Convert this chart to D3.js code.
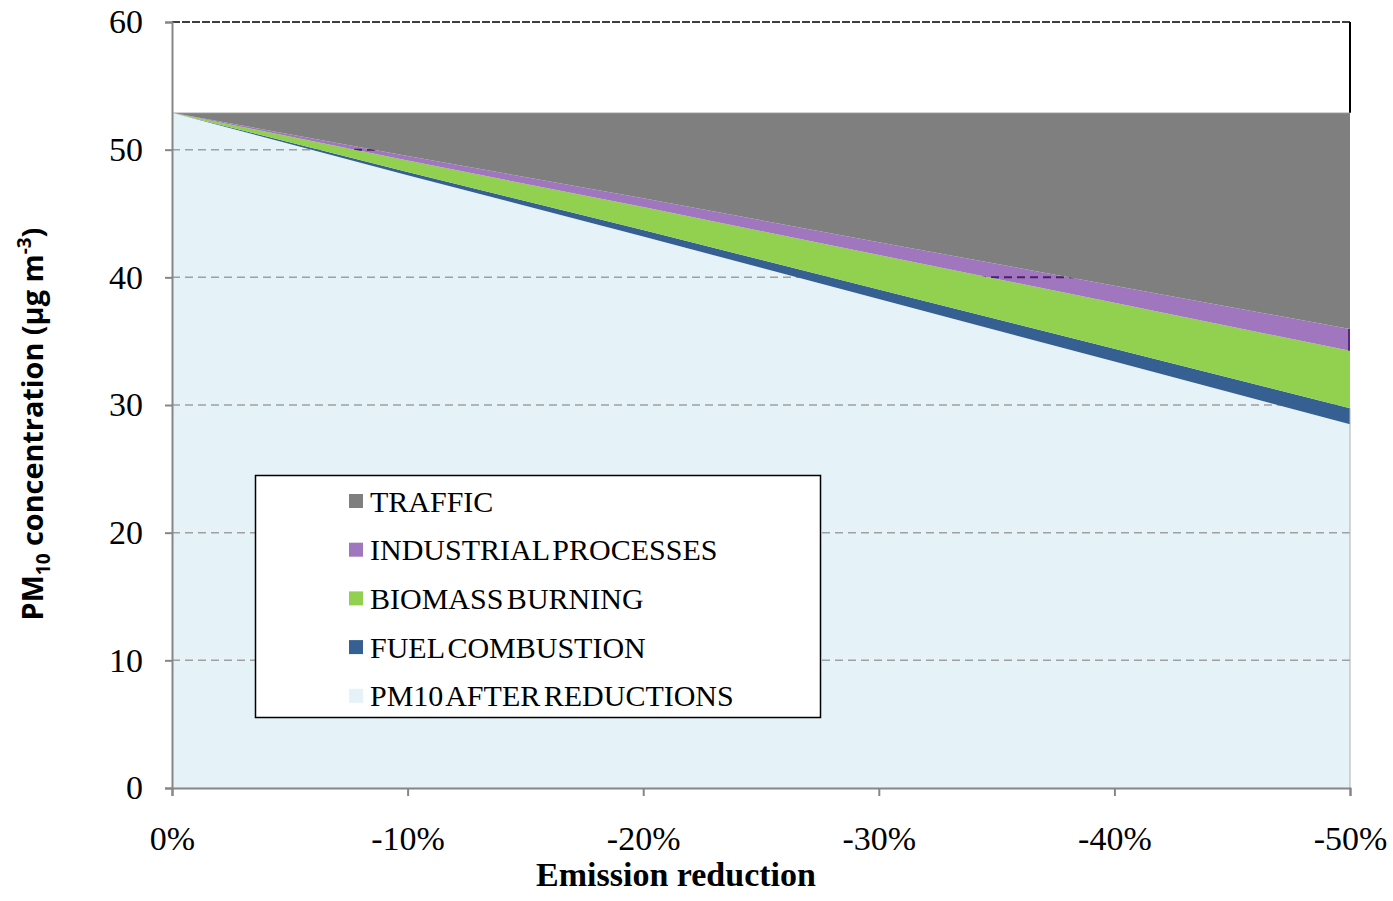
<!DOCTYPE html>
<html><head><meta charset="utf-8">
<script src="https://cdn.jsdelivr.net/npm/d3@7"></script>
<style>body{margin:0;background:#fff}svg{display:block}</style>
</head><body>
<svg id="chart" width="1393" height="901"></svg>
<script>
// ---- data ----
const reductions = [0, -10, -20, -30, -40, -50];          // emission reduction, %
const pm10After  = [52.9, 48.0, 43.2, 38.3, 33.4, 28.5];
const fuelComb   = [0, 0.25, 0.5, 0.75, 1.0, 1.25];
const biomass    = [0, 0.9, 1.8, 2.7, 3.6, 4.5];
const industrial = [0, 0.35, 0.7, 1.0, 1.35, 1.7];
const traffic    = [0, 3.4, 6.7, 10.15, 13.55, 16.95];
const yTicks = [0, 10, 20, 30, 40, 50, 60];
const xTicks = [0, -10, -20, -30, -40, -50];
const seriesKeys = ["after", "fuel", "biomass", "industrial", "traffic"];
const seriesNames = {after: "PM10 AFTER REDUCTIONS", fuel: "FUEL COMBUSTION", biomass: "BIOMASS BURNING", industrial: "INDUSTRIAL PROCESSES", traffic: "TRAFFIC"};
const legendOrder = ["traffic", "industrial", "biomass", "fuel", "after"];
const colors = {after: "#e5f2f7", fuel: "#366092", biomass: "#92d050", industrial: "#a077bf", traffic: "#7f7f7f"};

const table = reductions.map((r, i) => ({x: r, after: pm10After[i], fuel: fuelComb[i], biomass: biomass[i], industrial: industrial[i], traffic: traffic[i]}));

// ---- layout ----
const svg = d3.select("#chart");
const L = 172, R = 1350, T = 22, B = 788;
const x = d3.scaleLinear().domain([0, -50]).range([L, R]);
const y = d3.scaleLinear().domain([0, 60]).range([B, T]);

const stacked = d3.stack().keys(seriesKeys)(table);
const area = d3.area().x(d => x(d.data.x)).y0(d => y(d[0])).y1(d => y(d[1]));

const byKey = {};
stacked.forEach(s => byKey[s.key] = s);

// bottom area (light blue)
svg.append("path").attr("d", area(byKey.after)).attr("fill", colors.after);

// gridlines
const grid = svg.append("g");
yTicks.filter(t => t > 0 && t < 60).forEach(t => {
  grid.append("line").attr("x1", L).attr("x2", R).attr("y1", y(t)).attr("y2", y(t))
    .attr("stroke", "#a0a0a0").attr("stroke-width", 1.5).attr("stroke-dasharray", "8,5");
});
// top border (60) dark dashed
svg.append("line").attr("x1", L).attr("x2", R).attr("y1", y(60)).attr("y2", y(60))
  .attr("stroke", "#000").attr("stroke-width", 1.5).attr("stroke-dasharray", "8,2");

// other areas
["fuel", "biomass", "industrial", "traffic"].forEach(k => {
  svg.append("path").attr("d", area(byKey[k])).attr("fill", colors[k]);
});

// dark dashed gridlines visible within the industrial band
svg.append("clipPath").attr("id", "indClip").append("path").attr("d", area(byKey.industrial));
const g2 = svg.append("g").attr("clip-path", "url(#indClip)");
yTicks.filter(t => t > 0 && t < 60).forEach(t => {
  g2.append("line").attr("x1", L).attr("x2", R).attr("y1", y(t)).attr("y2", y(t))
    .attr("stroke", "#4b1f6f").attr("stroke-width", 2).attr("stroke-dasharray", "8,5");
});

// thin light edge on top of traffic
const topLine = d3.line().x(d => x(d.data.x)).y(d => y(d[1]));
svg.append("path").attr("d", topLine(byKey.traffic)).attr("fill", "none").attr("stroke", "#d0d0d0").attr("stroke-width", 1);

// right border
const last = table[table.length - 1];
const lastTop = d3.sum(seriesKeys, k => last[k]);
svg.append("line").attr("x1", x(-50)).attr("x2", x(-50)).attr("y1", y(60)).attr("y2", y(lastTop))
  .attr("stroke", "#000").attr("stroke-width", 2);
const indSeg = byKey.industrial[byKey.industrial.length - 1];
svg.append("line").attr("x1", x(-50) - 1).attr("x2", x(-50) - 1).attr("y1", y(indSeg[0])).attr("y2", y(indSeg[1]))
  .attr("stroke", "#5a2a80").attr("stroke-width", 2);
svg.append("line").attr("x1", x(-50)).attr("x2", x(-50)).attr("y1", y(byKey.fuel[5][1])).attr("y2", y(0))
  .attr("stroke", "#b0b0b0").attr("stroke-width", 1);

// axes
const yAxis = d3.axisLeft(y).tickValues(yTicks).tickSize(7).tickPadding(22).tickFormat(d3.format("d"));
const ya = svg.append("g").attr("transform", `translate(${L},0)`).call(yAxis);
const xAxis = d3.axisBottom(x).tickValues(xTicks).tickSize(8).tickPadding(30).tickFormat(d => d + "%");
const xa = svg.append("g").attr("transform", `translate(0,${B})`).call(xAxis);
[ya, xa].forEach(a => {
  a.select(".domain").attr("stroke", "#868686").attr("stroke-width", 2);
  a.selectAll(".tick line").attr("stroke", "#868686").attr("stroke-width", 2);
  a.selectAll(".tick text").attr("fill", "#000").style("font-family", "'Liberation Serif', serif").style("font-size", "34px");
});
xa.selectAll(".tick text").attr("dy", "0.71em");

// axis titles
svg.append("text").attr("x", 676).attr("y", 886).attr("text-anchor", "middle")
  .style("font-family", "'Liberation Serif', serif").style("font-weight", "bold").style("font-size", "34px")
  .text("Emission reduction");

const yt = svg.append("text").attr("transform", "translate(43,424) rotate(-90)").attr("text-anchor", "middle")
  .style("font-family", "'Open Sans', 'Liberation Sans', sans-serif").style("font-weight", "bold").style("font-size", "28.8px");
yt.append("tspan").text("PM");
yt.append("tspan").attr("dy", 7).style("font-size", "19px").text("10");
yt.append("tspan").attr("dy", -7).text(" concentration (µg m");
yt.append("tspan").attr("dy", -12).style("font-size", "19px").text("-3");
yt.append("tspan").attr("dy", 12).text(")");

// legend
const lg = svg.append("g");
lg.append("rect").attr("x", 255.5).attr("y", 475.5).attr("width", 565).attr("height", 242)
  .attr("fill", "#fff").attr("stroke", "#000").attr("stroke-width", 1.5);
legendOrder.forEach((k, i) => {
  const cy = 501 + i * 48.7;
  lg.append("rect").attr("x", 349).attr("y", cy - 7).attr("width", 14).attr("height", 14).attr("fill", colors[k]);
  lg.append("text").attr("x", 370).attr("y", cy).attr("dy", "0.35em")
    .style("font-family", "'Liberation Serif', serif").style("font-size", "30px")
    .style("word-spacing", "-4px").text(seriesNames[k]);
});
</script>
</body></html>
